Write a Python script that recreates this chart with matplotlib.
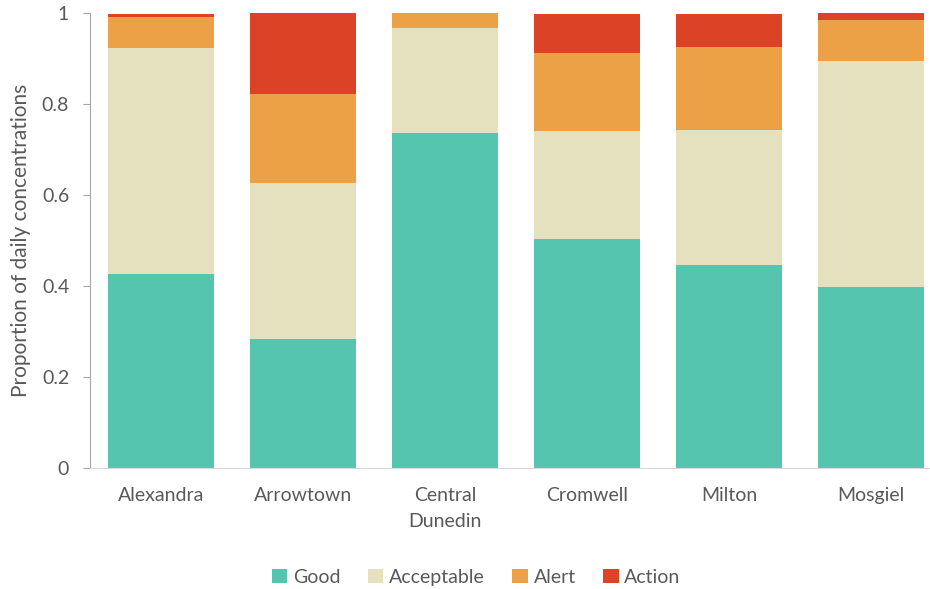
import matplotlib.pyplot as plt
import numpy as np

sites = ['Alexandra', 'Arrowtown', 'Central\nDunedin', 'Cromwell', 'Milton', 'Mosgiel']
good = [0.426, 0.284, 0.736, 0.503, 0.446, 0.398]
acceptable = [0.497, 0.342, 0.231, 0.238, 0.297, 0.497]
alert = [0.068, 0.196, 0.033, 0.170, 0.182, 0.090]
action = [0.007, 0.178, 0.0, 0.087, 0.073, 0.015]

series = [('Good', good, '#56C5AF'), ('Acceptable', acceptable, '#E5E0BE'),
          ('Alert', alert, '#EDA147'), ('Action', action, '#DC4326')]

plt.rcParams['font.family'] = ['Lato', 'DejaVu Sans']
txt = '#595959'

fig = plt.figure(figsize=(9.3, 5.89), dpi=100)
ax = fig.add_axes([90/930, 121/589, 852/930, 455.3/589])

x = np.arange(len(sites))
bottom = np.zeros(len(sites))
for name, vals, col in series:
    ax.bar(x, vals, 0.75, bottom=bottom, color=col, label=name)
    bottom += np.array(vals)

ax.set_xlim(-0.5, 5.5)
ax.set_ylim(0, 1)
ax.set_yticks([0, 0.2, 0.4, 0.6, 0.8, 1])
ax.set_yticklabels(['0', '0.2', '0.4', '0.6', '0.8', '1'])
ax.set_xticks(x)
ax.set_xticklabels(sites, linespacing=1.6)
ax.tick_params(axis='y', colors='#a6a6a6', labelcolor=txt, labelsize=14, length=5, pad=10)
ax.tick_params(axis='x', length=0, labelcolor=txt, labelsize=14, pad=14)
for s in ['top', 'right']:
    ax.spines[s].set_visible(False)
ax.spines['left'].set_color('#a6a6a6')
ax.spines['bottom'].set_color('#d9d9d9')
ax.set_ylabel('Proportion of daily concentrations', color=txt, fontsize=15, labelpad=8)

fig.legend(loc='center', bbox_to_anchor=(0.512, 0.02), ncol=4, frameon=False,
           fontsize=14, handlelength=0.8, handleheight=0.8, handletextpad=0.3,
           columnspacing=1.4, labelcolor=txt)

fig.savefig('out.png', dpi=100)
